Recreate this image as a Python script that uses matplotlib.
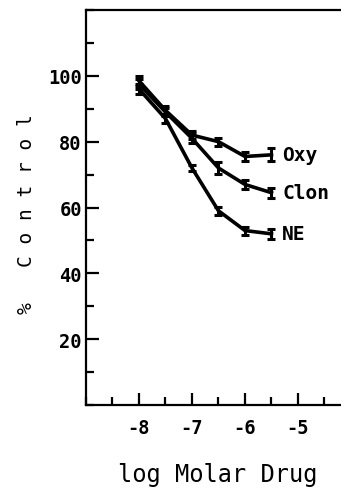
import numpy as np
import matplotlib
matplotlib.use("Agg")
import matplotlib.pyplot as plt
from matplotlib.ticker import MultipleLocator

# ---------------
# Data
# ---------------

log_dose = [-8, -7.5, -7, -6.5, -6, -5.5]

oxy = [98.5, 89.5, 82, 80, 75.5, 76]
oxy_err = [1.5, 1.2, 1.2, 1.2, 1.5, 2.0]

clon = [97.5, 89, 81, 72, 67, 64.5]
clon_err = [1.5, 1.2, 1.5, 1.8, 1.5, 1.5]

ne = [96, 87, 72, 59, 53, 52]
ne_err = [1.5, 1.2, 1.0, 1.2, 1.2, 1.5]

series = [("Oxy", oxy, oxy_err), ("Clon", clon, clon_err), ("NE", ne, ne_err)]

# -------------
# Plot
# -------------

plt.rcParams["font.family"] = ["DejaVu Sans Mono"]
plt.rcParams["font.weight"] = "bold"
plt.rcParams["axes.unicode_minus"] = False

fig = plt.figure(figsize=(3.41, 4.89), dpi=100)
ax = fig.add_axes([0.2522, 0.1697, 0.777, 0.8078])

for name, y, e in series:
    ax.errorbar(log_dose, y, yerr=e, color="black", lw=2.6,
                capsize=3, capthick=2.2, elinewidth=2.2)
    ax.text(-5.3, y[-1], name, fontsize=14, va="center", ha="left")

ax.set_xlim(-9, -4)
ax.set_ylim(0, 120)

ax.xaxis.set_major_locator(MultipleLocator(1))
ax.xaxis.set_minor_locator(MultipleLocator(0.5))
ax.yaxis.set_major_locator(MultipleLocator(20))
ax.yaxis.set_minor_locator(MultipleLocator(10))

ax.set_xticks([-8, -7, -6, -5])
ax.set_yticks([20, 40, 60, 80, 100])

ax.tick_params(which="both", direction="in", width=1.6, labelsize=13.5)
ax.tick_params(which="major", length=9)
ax.tick_params(which="minor", length=6)
ax.tick_params(axis="x", pad=9)
ax.tick_params(axis="y", pad=3)
ax.tick_params(top=False, right=False, which="both")

for s in ["left", "top", "bottom"]:
    ax.spines[s].set_linewidth(1.6)
ax.spines["right"].set_visible(False)

fig.text(0.64, 0.028, "log Molar Drug", fontsize=17, fontweight="normal",
         ha="center", va="center")
fig.text(0.078, 0.562, "%   C o n t r o l", fontsize=14, fontweight="normal",
         rotation=90, ha="center", va="center")

fig.savefig("out.png", dpi=100)
